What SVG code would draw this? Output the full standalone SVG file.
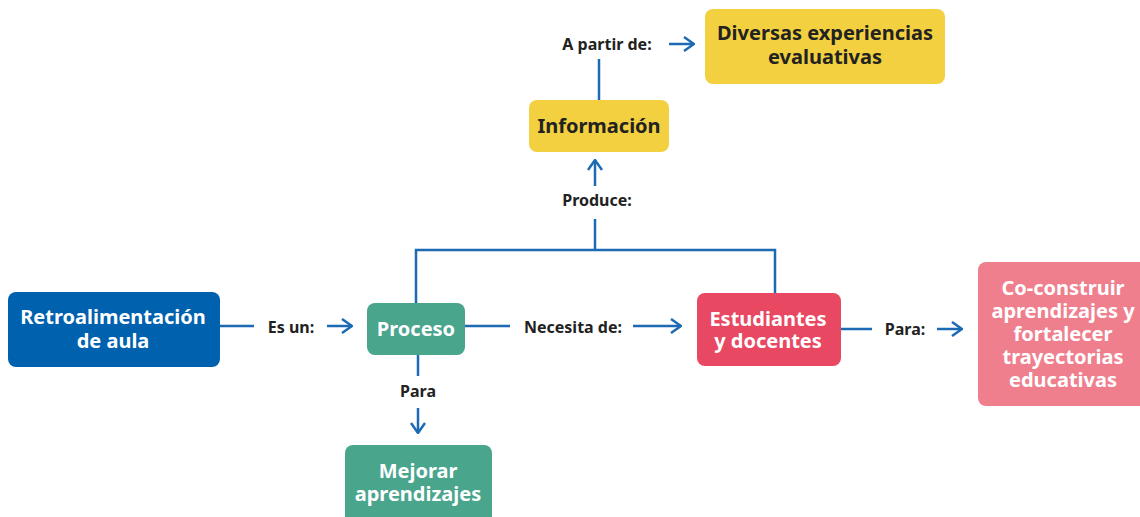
<svg xmlns="http://www.w3.org/2000/svg" width="1140" height="517" viewBox="0 0 1140 517">
<defs>
<style>
.n{font-family:"Noto Sans","Open Sans","Liberation Sans",sans-serif;font-weight:700;font-size:20px;fill:#fff;text-anchor:middle}
.d{fill:#222}
.l{font-family:"Noto Sans","Open Sans","Liberation Sans",sans-serif;font-weight:700;font-size:16px;fill:#222;text-anchor:middle}
.c{fill:none;stroke:#1D6AB4;stroke-width:2.5}
</style>
<marker id="ah" viewBox="0 0 12 16" markerWidth="12" markerHeight="16" refX="11" refY="8" orient="auto" markerUnits="userSpaceOnUse">
<path d="M1,1 L11,8 L1,15" fill="none" stroke="#1D6AB4" stroke-width="2.5"/>
</marker>
</defs>
<rect width="1140" height="517" fill="#fff"/>
<g id="connectors">
<path class="c" d="M220,326 H254"/>
<path class="c" d="M327,326 H352" marker-end="url(#ah)"/>
<path class="c" d="M465,326 H510"/>
<path class="c" d="M633,326 H681" marker-end="url(#ah)"/>
<path class="c" d="M841,329 H872"/>
<path class="c" d="M937,329 H962" marker-end="url(#ah)"/>
<path class="c" d="M418,355 V376"/>
<path class="c" d="M418,408 V433" marker-end="url(#ah)"/>
<path class="c" d="M416,303 V250 H775 V293"/>
<path class="c" d="M595,250 V219"/>
<path class="c" d="M595,186 V160" marker-end="url(#ah)"/>
<path class="c" d="M599,100 V59"/>
<path class="c" d="M669,44 H694" marker-end="url(#ah)"/>
<text class="l" x="291" y="333">Es un:</text>
<text class="l" x="573" y="333">Necesita de:</text>
<text class="l" x="905" y="335">Para:</text>
<text class="l" x="418" y="397">Para</text>
<text class="l" x="597" y="206">Produce:</text>
<text class="l" x="607" y="50">A partir de:</text>
</g>
<g id="retro"><rect x="8" y="292" width="212" height="75" rx="8" fill="#0061AE"/>
<text class="n" x="113" y="324">Retroalimentación</text><text class="n" x="113" y="348">de aula</text></g>
<g id="proceso"><rect x="367" y="303" width="98" height="52" rx="8" fill="#4AA58D"/>
<text class="n" x="416" y="336">Proceso</text></g>
<g id="estudiantes"><rect x="697" y="293" width="144" height="73" rx="8" fill="#E84862"/>
<text class="n" x="768" y="326">Estudiantes</text><text class="n" x="768" y="348">y docentes</text></g>
<g id="coconstruir"><rect x="978" y="262" width="172" height="144" rx="8" fill="#F07F8E"/>
<text class="n" x="1063" y="295">Co-construir</text><text class="n" x="1063" y="318">aprendizajes y</text><text class="n" x="1063" y="341">fortalecer</text><text class="n" x="1063" y="364">trayectorias</text><text class="n" x="1063" y="387">educativas</text></g>
<g id="mejorar"><rect x="345" y="445" width="147" height="80" rx="8" fill="#4AA58D"/>
<text class="n" x="418" y="478">Mejorar</text><text class="n" x="418" y="501">aprendizajes</text></g>
<g id="informacion"><rect x="529" y="100" width="140" height="52" rx="8" fill="#F2D03F"/>
<text class="n d" x="599" y="133">Información</text></g>
<g id="diversas"><rect x="705" y="9" width="240" height="75" rx="8" fill="#F2D03F"/>
<text class="n d" x="825" y="40">Diversas experiencias</text><text class="n d" x="825" y="64">evaluativas</text></g>
</svg>
